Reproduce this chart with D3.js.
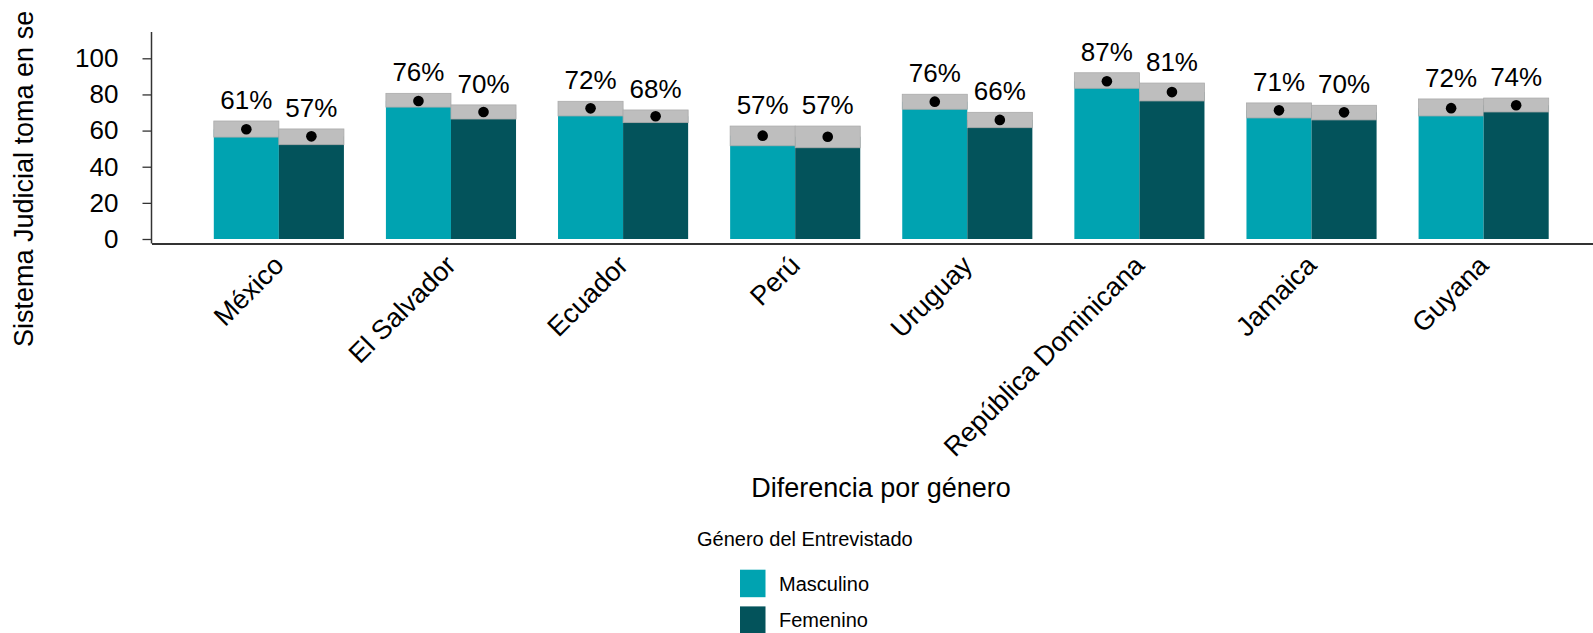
<!DOCTYPE html>
<html>
<head>
<meta charset="utf-8">
<script src="https://cdn.jsdelivr.net/npm/d3@7"></script>
<style>
  body { margin: 0; background: #fff; }
  svg { display: block; font-family: "Liberation Sans", Arial, sans-serif; }
  .axis text { fill: #000; }
</style>
</head>
<body>
<svg id="chart" width="1593" height="633"></svg>
<script>
const countries = ["México", "El Salvador", "Ecuador", "Perú", "Uruguay", "República Dominicana", "Jamaica", "Guyana"];
const genders = ["Masculino", "Femenino"];

// promedio y límites del intervalo de confianza
const masculinoMean  = [60.7, 76.4, 72.3, 57.2, 76.0, 87.3, 71.2, 72.4];
const masculinoLower = [56.4, 73.0, 68.1, 51.6, 71.8, 83.4, 67.0, 68.1];
const masculinoUpper = [65.3, 80.6, 76.2, 62.5, 80.1, 92.0, 75.3, 77.5];

const femeninoMean  = [56.8, 70.3, 67.9, 56.6, 65.9, 81.3, 70.1, 74.0];
const femeninoLower = [52.2, 66.4, 64.4, 50.5, 61.6, 76.4, 65.9, 70.3];
const femeninoUpper = [60.9, 74.2, 71.4, 62.5, 70.1, 86.3, 74.0, 78.0];

const yTicks = [0, 20, 40, 60, 80, 100];

const colors = { "Masculino": "#00A3B1", "Femenino": "#03535B" };

const data = [];
countries.forEach(function (c, i) {
    data.push({ country: c, gender: "Masculino", mean: masculinoMean[i], lower: masculinoLower[i], upper: masculinoUpper[i] });
    data.push({ country: c, gender: "Femenino", mean: femeninoMean[i], lower: femeninoLower[i], upper: femeninoUpper[i] });
});

const svg = d3.select("#chart");
const panelLeft = 151.5, panelBottom = 243.5, panelTop = 32;

const xScale = d3.scaleBand()
    .domain(countries)
    .range([panelLeft, 1611])
    .paddingInner(0.244)
    .paddingOuter(0.362);

const xSub = d3.scaleBand()
    .domain(genders)
    .range([0, xScale.bandwidth()]);

const yScale = d3.scaleLinear()
    .domain([0, 100])
    .range([239, 58.3]);

// y axis
const yAxis = svg.append("g")
    .attr("class", "axis")
    .attr("transform", "translate(" + panelLeft + ",0)")
    .call(d3.axisLeft(yScale).tickValues(yTicks).tickSize(9).tickPadding(24));
yAxis.select(".domain").remove();
yAxis.selectAll(".tick line").attr("stroke", "#333").attr("stroke-width", 1.3);
yAxis.selectAll(".tick text").attr("font-size", 26).attr("font-family", "Liberation Sans, Arial, sans-serif");

svg.append("line")
    .attr("x1", panelLeft).attr("x2", panelLeft)
    .attr("y1", panelTop).attr("y2", panelBottom)
    .attr("stroke", "#333").attr("stroke-width", 1.5);

// x axis
const xAxis = svg.append("g")
    .attr("class", "axis")
    .attr("transform", "translate(0," + panelBottom + ")")
    .call(d3.axisBottom(xScale).tickSize(0).tickSizeOuter(0));
xAxis.select(".domain").attr("stroke", "#333").attr("stroke-width", 1.8);
xAxis.selectAll(".tick text")
    .attr("font-size", 27)
    .attr("font-family", "Liberation Sans, Arial, sans-serif")
    .attr("text-anchor", "end")
    .attr("x", 0).attr("y", 0).attr("dy", 0)
    .attr("transform", "translate(6.5,23.5) rotate(-45)");

// bars
const groups = svg.append("g").selectAll("g")
    .data(data)
    .join("g")
    .attr("transform", function (d) { return "translate(" + (xScale(d.country) + xSub(d.gender)) + ",0)"; });

groups.append("rect")
    .attr("x", 0)
    .attr("width", xSub.bandwidth())
    .attr("y", function (d) { return yScale(d.mean); })
    .attr("height", function (d) { return yScale(0) - yScale(d.mean); })
    .attr("fill", function (d) { return colors[d.gender]; });

groups.append("rect")
    .attr("x", 0)
    .attr("width", xSub.bandwidth())
    .attr("y", function (d) { return yScale(d.upper); })
    .attr("height", function (d) { return yScale(d.lower) - yScale(d.upper); })
    .attr("fill", "#BEBEBE")
    .attr("stroke", "#ABABAB")
    .attr("stroke-width", 0.8);

groups.append("circle")
    .attr("cx", xSub.bandwidth() / 2)
    .attr("cy", function (d) { return yScale(d.mean); })
    .attr("r", 5.3)
    .attr("fill", "#000");

groups.append("text")
    .attr("x", xSub.bandwidth() / 2)
    .attr("y", function (d) { return yScale(d.upper) - 12; })
    .attr("text-anchor", "middle")
    .attr("font-size", 26)
    .text(function (d) { return Math.round(d.mean) + "%"; });

// axis titles
svg.append("text")
    .attr("transform", "translate(33,347) rotate(-90)")
    .attr("font-size", 27)
    .text("Sistema Judicial toma en se");

svg.append("text")
    .attr("x", 881).attr("y", 497)
    .attr("text-anchor", "middle")
    .attr("font-size", 27)
    .text("Diferencia por género");

// legend
const legend = svg.append("g");
legend.append("text")
    .attr("x", 697).attr("y", 546)
    .attr("font-size", 20)
    .text("Género del Entrevistado");

const items = legend.selectAll(".item")
    .data(genders)
    .join("g")
    .attr("class", "item")
    .attr("transform", function (d, i) { return "translate(740," + (569.7 + i * 36.7) + ")"; });

items.append("rect")
    .attr("width", 25.5).attr("height", 27.5)
    .attr("fill", function (d) { return colors[d]; });

items.append("text")
    .attr("x", 39).attr("y", 21)
    .attr("font-size", 20)
    .text(function (d) { return d; });
</script>
</body>
</html>
